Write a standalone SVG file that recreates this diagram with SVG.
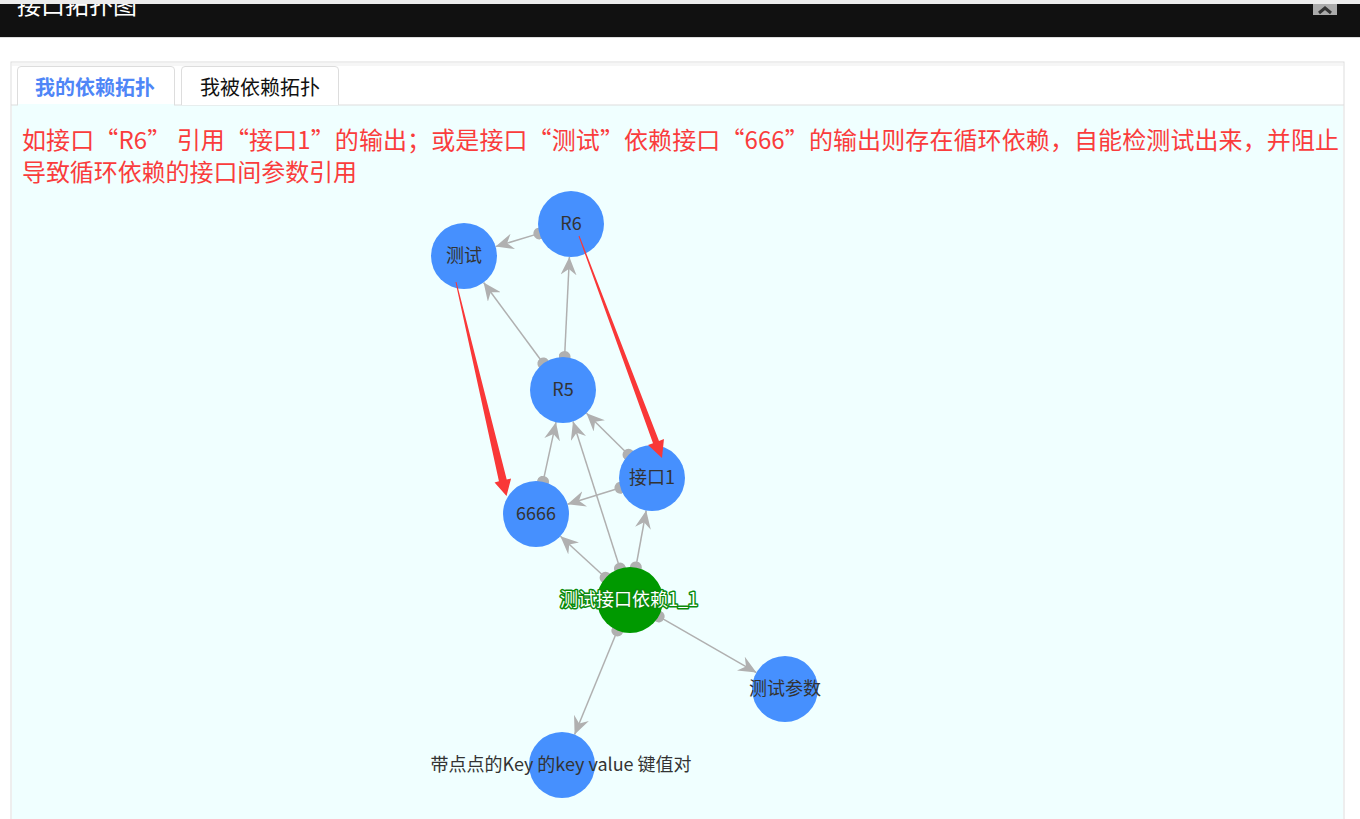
<svg xmlns="http://www.w3.org/2000/svg" width="1360" height="819" viewBox="0 0 1360 819">
<defs>
<style>
.cjk{font-family:"Noto Sans CJK SC","Liberation Sans",sans-serif}
.node{fill:#4690fe}
.lbl{font-size:18px;fill:#333;text-anchor:middle}
.edge{stroke:#b0b0b0;stroke-width:1.5;fill:none;marker-start:url(#dot);marker-end:url(#arr)}
.red{font-size:24px;fill:#fa3c3c}
</style>
<marker id="arr" viewBox="0 0 18 16" markerWidth="18" markerHeight="16" refX="18" refY="8" orient="auto" markerUnits="userSpaceOnUse">
<path d="M0,0 L18,8 L0,16 L6,8 z" fill="#b0b0b0"/>
</marker>
<marker id="dot" viewBox="0 0 12 12" markerWidth="12" markerHeight="12" refX="6" refY="6" orient="auto" markerUnits="userSpaceOnUse">
<circle cx="6" cy="6" r="6" fill="#b0b0b0"/>
</marker>
</defs>
<rect width="1360" height="819" fill="#ffffff"/>
<!-- header bar -->
<rect x="0" y="4" width="1360" height="33" fill="#111111"/>
<rect x="0" y="37" width="1360" height="1" fill="#dddddd"/>
<text x="17" y="14" class="cjk" font-size="24" fill="#ffffff">接口拓扑图</text>
<rect x="0" y="0" width="1360" height="4" fill="#ececec"/>
<rect x="1313" y="4" width="24" height="11" fill="#aaaaaa"/>
<path d="M1319,13 L1325,8 L1331,13" stroke="#333" stroke-width="3" fill="none"/>
<!-- panel -->
<rect x="11" y="62" width="1333" height="770" fill="#ffffff" stroke="#dddddd" stroke-width="1"/>
<rect x="12" y="63" width="1331" height="3" fill="#f6f6f6"/>
<rect x="12" y="105" width="1331" height="720" fill="#f0ffff"/>
<line x1="11" y1="105" x2="1344" y2="105" stroke="#dddddd"/>
<g id="tab1">
<path d="M17.5,105 L17.5,70 Q17.5,66.5 21,66.5 L171,66.5 Q174.5,66.5 174.5,70 L174.5,105" fill="#ffffff" stroke="#dddddd"/>
<rect x="18" y="104" width="156" height="2" fill="#f0ffff"/>
<text x="95" y="95" class="cjk" font-size="20" font-weight="bold" fill="#4f86f7" text-anchor="middle">我的依赖拓扑</text>
</g>
<g id="tab2">
<path d="M181.5,105 L181.5,70 Q181.5,66.5 185,66.5 L335,66.5 Q338.5,66.5 338.5,70 L338.5,105" fill="#ffffff" stroke="#dddddd"/>
<text x="260" y="95" class="cjk" font-size="20" fill="#111" text-anchor="middle">我被依赖拓扑</text>
</g>
<g id="note">
<text x="22" y="149" class="cjk red" textLength="1317" lengthAdjust="spacing">如接口“R6” 引用“接口1”的输出；或是接口“测试”依赖接口“666”的输出则存在循环依赖，自能检测试出来，并阻止</text>
<text x="22" y="181" class="cjk red" textLength="335" lengthAdjust="spacing">导致循环依赖的接口间参数引用</text>
</g>
<g id="connectors">
<line class="edge" x1="539.4" y1="233.4" x2="495.6" y2="246.6"/>
<line class="edge" x1="543.4" y1="363.5" x2="483.6" y2="282.5"/>
<line class="edge" x1="564.6" y1="357" x2="569.4" y2="257"/>
<line class="edge" x1="628.5" y1="454.8" x2="586.5" y2="413.2"/>
<line class="edge" x1="620.5" y1="487.8" x2="567.5" y2="504.2"/>
<line class="edge" x1="543" y1="481.8" x2="556" y2="422.2"/>
<line class="edge" x1="605.6" y1="577.7" x2="560.4" y2="536.3"/>
<line class="edge" x1="620" y1="568.6" x2="573" y2="421.4"/>
<line class="edge" x1="635.8" y1="567.5" x2="646.2" y2="510.5"/>
<line class="edge" x1="658.6" y1="616.4" x2="756.4" y2="672.6"/>
<line class="edge" x1="617.4" y1="630.5" x2="574.6" y2="734.5"/>
</g>
<g id="n-r6"><circle class="node" cx="571" cy="224" r="33"/><text class="cjk lbl" x="571" y="230">R6</text></g>
<g id="n-test"><circle class="node" cx="464" cy="256" r="33"/><text class="cjk lbl" x="464" y="262">测试</text></g>
<g id="n-r5"><circle class="node" cx="563" cy="390" r="33"/><text class="cjk lbl" x="563" y="396">R5</text></g>
<g id="n-if1"><circle class="node" cx="652" cy="478" r="33"/><text class="cjk lbl" x="652" y="484">接口1</text></g>
<g id="n-6666"><circle class="node" cx="536" cy="514" r="33"/><text class="cjk lbl" x="536" y="520">6666</text></g>
<g id="n-main"><circle cx="630" cy="600" r="33" fill="#009900"/><text class="cjk" x="629" y="606" font-size="18" text-anchor="middle" fill="#ffffff" stroke="#0a8a0a" stroke-width="3" paint-order="stroke" stroke-linejoin="round">测试接口依赖1_1</text></g>
<g id="n-param"><circle class="node" cx="785" cy="689" r="33"/><text class="cjk lbl" x="785" y="695">测试参数</text></g>
<g id="n-key"><circle class="node" cx="562" cy="765" r="33"/><text class="cjk lbl" x="561" y="771">带点点的Key 的key value 键值对</text></g>
<g id="red-arrows" fill="#f93838">
<polygon points="579.47,235.82 659.0,440.97 663.96,439.1 662,458 648.04,445.1 653.0,443.23 578.53,236.18"/>
<polygon points="456.49,281.89 506.72,479.51 511.10,478.48 506.5,496 494.56,482.38 498.94,481.35 455.51,282.11"/>
</g>
</svg>
